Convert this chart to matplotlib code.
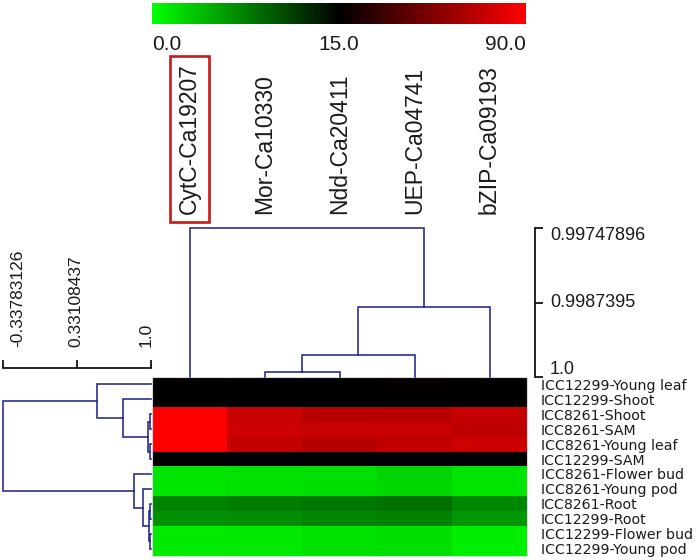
import matplotlib
matplotlib.use("Agg")
import matplotlib.pyplot as plt
import numpy as np
from matplotlib.colors import LinearSegmentedColormap, TwoSlopeNorm
from matplotlib.cm import ScalarMappable
import matplotlib.transforms as mtransforms

# ---------------- data ----------------
genes = ["CytC-Ca19207", "Mor-Ca10330", "Ndd-Ca20411", "UEP-Ca04741", "bZIP-Ca09193"]
samples = ["ICC12299-Young leaf", "ICC12299-Shoot", "ICC8261-Shoot", "ICC8261-SAM",
           "ICC8261-Young leaf", "ICC12299-SAM", "ICC8261-Flower bud", "ICC8261-Young pod",
           "ICC8261-Root", "ICC12299-Root", "ICC12299-Flower bud", "ICC12299-Young pod"]

row_young_leaf_12299 = [15.6, 15.5, 15.4, 16.2, 15.7]
row_shoot_12299 = [15.6, 15.5, 15.4, 15.5, 15.8]
row_shoot_8261 = [90.0, 73.2, 69.4, 69.4, 72.6]
row_sam_8261 = [90.0, 75.3, 73.2, 73.8, 70.3]
row_young_leaf_8261 = [90.0, 72.4, 67.9, 71.5, 75.3]
row_sam_12299 = [15.3, 15.2, 15.1, 15.2, 15.2]
row_flower_bud_8261 = [1.6, 1.8, 1.9, 2.65, 1.6]
row_young_pod_8261 = [1.6, 1.8, 1.9, 2.35, 1.6]
row_root_8261 = [7.35, 7.65, 8.06, 8.41, 7.06]
row_root_12299 = [6.47, 6.76, 7.24, 7.47, 6.18]
row_flower_bud_12299 = [1.18, 1.35, 1.76, 1.94, 1.0]
row_young_pod_12299 = [1.18, 1.35, 1.76, 1.94, 1.0]

values = np.array([row_young_leaf_12299, row_shoot_12299, row_shoot_8261, row_sam_8261,
                   row_young_leaf_8261, row_sam_12299, row_flower_bud_8261, row_young_pod_8261,
                   row_root_8261, row_root_12299, row_flower_bud_12299, row_young_pod_12299])

# merges: (child a, child b, similarity level); new clusters numbered n, n+1, ...
col_merges = [(1, 2, 0.99992), (5, 3, 0.99963), (6, 4, 0.99882), (0, 7, 0.99747896)]
row_merges = [(2, 3, 0.990), (4, 5, 0.988), (12, 13, 0.975), (1, 14, 0.747), (0, 15, 0.512),
              (8, 9, 0.990), (10, 11, 0.990), (17, 18, 0.982), (7, 19, 0.928), (6, 20, 0.846),
              (16, 21, -0.33783126)]

cbar_ticks = [0.0, 15.0, 90.0]
cbar_labels = ["0.0", "15.0", "90.0"]
col_scale_ticks = [0.99747896, 0.9987395, 1.0]
col_scale_labels = ["0.99747896", "0.9987395", "1.0"]
row_scale_ticks = [-0.33783126, 0.33108437, 1.0]
row_scale_labels = ["-0.33783126", "0.33108437", "1.0"]

# ---------------- style ----------------
plt.rcParams["font.family"] = ["Liberation Sans", "DejaVu Sans"]
W, H = 697, 560
fig = plt.figure(figsize=(W / 100, H / 100), dpi=100)
fig.patch.set_facecolor("white")
TXT = "#1a1a1a"
DCOL = "#25258c"
DLW = 1.15


def px_axes(x0, y0, x1, y1):
    return fig.add_axes([x0 / W, 1 - y1 / H, (x1 - x0) / W, (y1 - y0) / H])


cmap = LinearSegmentedColormap.from_list("gbr", [(0, 1, 0), (0, 0, 0), (1, 0, 0)])
norm = TwoSlopeNorm(vcenter=15.0, vmin=0.0, vmax=90.0)

# heatmap
hx0, hx1, hy0, hy1 = 152, 527, 377, 556
ax_h = px_axes(hx0, hy0, hx1, hy1)
ax_h.imshow(values, cmap=cmap, norm=norm, aspect="auto", interpolation="nearest")
ax_h.set_xticks([])
ax_h.set_yticks(range(len(samples)))
ax_h.set_yticklabels(samples, fontsize=10.2, family=["DejaVu Sans"], color=TXT)
ax_h.yaxis.tick_right()
ax_h.tick_params(axis="y", length=0, pad=10)
for s in ax_h.spines.values():
    s.set_color("#d8d8d8")
    s.set_linewidth(0.8)


def draw_dendro(ax, merges, n, orient):
    pos = {i: float(i) for i in range(n)}
    hgt = {i: 1.0 for i in range(n)}
    for k, (a, b, h) in enumerate(merges):
        pa, pb, ha_, hb_ = pos[a], pos[b], hgt[a], hgt[b]
        if orient == "top":
            ax.plot([pa, pa, pb, pb], [ha_, h, h, hb_], color=DCOL, lw=DLW, clip_on=False,
                    solid_joinstyle="miter")
        else:
            ax.plot([ha_, h, h, hb_], [pa, pa, pb, pb], color=DCOL, lw=DLW, clip_on=False,
                    solid_joinstyle="miter")
        pos[n + k] = (pa + pb) / 2
        hgt[n + k] = h


# top dendrogram
ax_t = px_axes(hx0, 228, hx1, hy0)
draw_dendro(ax_t, col_merges, len(genes), "top")
ax_t.set_xlim(-0.5, len(genes) - 0.5)
ax_t.set_ylim(1.0, 0.99747896)
ax_t.set_yticks([])
ax_t.set_xticks(range(len(genes)))
ax_t.set_xticklabels(genes, rotation=90, fontsize=16.5, color=TXT)
ax_t.xaxis.tick_top()
ax_t.tick_params(axis="x", length=0, pad=10)
for s in ax_t.spines.values():
    s.set_visible(False)
lab0 = ax_t.get_xticklabels()[0]
lab0.set_bbox(dict(boxstyle="square,pad=0.33", fc="none", ec="#c81a1a", lw=1.9))

# left dendrogram
ax_l = px_axes(3, hy0, 151, hy1)
draw_dendro(ax_l, row_merges, len(samples), "left")
ax_l.set_xlim(-0.33783126, 1.0)
ax_l.set_ylim(len(samples) - 0.5, -0.5)
ax_l.axis("off")

# right scale for the column dendrogram
ax_rs = px_axes(534, 228, 535, hy0)
ax_rs.set_ylim(1.0, 0.99747896)
ax_rs.set_xlim(0, 1)
for k, s in ax_rs.spines.items():
    s.set_visible(k == "right")
ax_rs.spines["right"].set_linewidth(1.2)
ax_rs.set_xticks([])
ax_rs.yaxis.tick_right()
ax_rs.set_yticks(col_scale_ticks)
ax_rs.tick_params(axis="y", direction="out", length=6, width=1.2, labelright=False)
for i, (v, lab) in enumerate(zip(col_scale_ticks, col_scale_labels)):
    dy = -7 if i == 0 else (8 if i == len(col_scale_ticks) - 1 else 0)
    tr = mtransforms.offset_copy(ax_rs.transData, fig=fig, x=15, y=dy, units="dots")
    ax_rs.text(1.0, v, lab, transform=tr, ha="left", va="center", fontsize=13, color=TXT)

# top scale for the row dendrogram
ax_ls = px_axes(3, 368, 151, 369)
ax_ls.set_xlim(-0.33783126, 1.0)
ax_ls.set_ylim(0, 1)
for k, s in ax_ls.spines.items():
    s.set_visible(k == "top")
ax_ls.spines["top"].set_linewidth(1.2)
ax_ls.set_yticks([])
ax_ls.xaxis.tick_top()
ax_ls.set_xticks(row_scale_ticks)
ax_ls.tick_params(axis="x", direction="out", length=6, width=1.2, labeltop=False)
for v, lab, dx in zip(row_scale_ticks, row_scale_labels, [15, -1, -5]):
    tr = mtransforms.offset_copy(ax_ls.transData, fig=fig, x=dx, y=21, units="dots")
    ax_ls.text(v, 1.0, lab, transform=tr, rotation=90, ha="center", va="bottom",
               fontsize=12.5, color=TXT)

# colour bar
cax = px_axes(152, 3, 526, 24)
cb = fig.colorbar(ScalarMappable(norm=norm, cmap=cmap), cax=cax, orientation="horizontal")
cb.outline.set_visible(False)
cb.set_ticks(cbar_ticks)
cb.set_ticklabels(cbar_labels)
cax.tick_params(axis="x", length=0, pad=8, labelsize=15, labelcolor=TXT)
labs = cax.get_xticklabels()
labs[0].set_ha("left")
labs[-1].set_ha("right")

fig.savefig("out.png", dpi=100, facecolor="white")
